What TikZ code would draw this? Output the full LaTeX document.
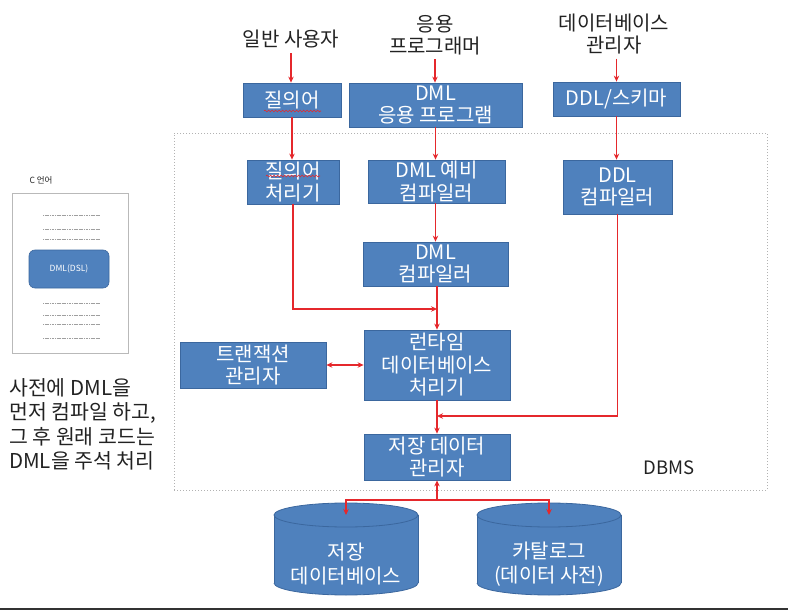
\documentclass[tikz,border=0pt]{standalone}
\usepackage{fontspec}
\setmainfont{Noto Sans CJK KR}
\usetikzlibrary{arrows.meta,decorations.pathmorphing}
\definecolor{boxblue}{HTML}{4F81BD}
\definecolor{boxedge}{HTML}{3B679E}
\definecolor{arrred}{HTML}{E5282C}
\definecolor{txtdark}{HTML}{222222}
\begin{document}
\begin{tikzpicture}[x=1pt,y=-1pt,
  box/.style={draw=boxedge, line width=0.8pt, fill=boxblue, text=white, align=center,
              inner sep=0pt, font=\fontsize{20}{22.5}\selectfont},
  toplabel/.style={align=center, inner sep=0pt, text=txtdark, font=\fontsize{20}{22.5}\selectfont},
  arr/.style={draw=arrred, line width=1.2pt, -{Stealth[length=6pt,width=5.5pt]}},
  darr/.style={draw=arrred, line width=1.2pt, {Stealth[length=6pt,width=5.5pt]}-{Stealth[length=6pt,width=5.5pt]}},
  cylline/.style={draw=boxedge, line width=0.8pt},
  cyltext/.style={text=white, align=center, inner sep=0pt, font=\fontsize{20}{24}\selectfont},
  squiggle/.style={draw=arrred, line width=0.6pt, decorate, decoration={snake, amplitude=0.9pt, segment length=3.5pt}},
  frame/.style={draw=gray!60, line width=1pt, dotted, inner sep=0pt},
  docdash/.style={draw=gray!75, line width=0.7pt, dash pattern=on 1.2pt off 0.5pt}
]
\useasboundingbox (0,0) rectangle (788,610);

% DBMS region
\node[frame, minimum width=593pt, minimum height=357pt] (dbms) at (470.5,311.5) {};
\node[inner sep=0pt, text=txtdark, font=\fontsize{18.5}{20}\selectfont] (dbmslbl) at (669,468) {DBMS};

% top labels
\node[toplabel] (u1) at (291,39) {일반 사용자};
\node[toplabel] (u2) at (435,35) {응용\\프로그래머};
\node[toplabel] (u3) at (614,34) {데이터베이스\\관리자};

% boxes
\node[box, minimum width=98pt, minimum height=34pt] (q1) at (292,100) {질의어};
\node[box, minimum width=173pt, minimum height=44pt] (app) at (435.5,105) {DML\\응용 프로그램};
\node[box, minimum width=127pt, minimum height=34pt] (ddl) at (616.5,99) {DDL/스키마};
\node[box, minimum width=92pt, minimum height=44pt] (qp) at (293,182) {질의어\\처리기};
\node[box, minimum width=137pt, minimum height=43pt] (pre) at (436.5,181.5) {DML 예비\\컴파일러};
\node[box, minimum width=109pt, minimum height=54pt] (ddlc) at (617.5,187) {DDL\\컴파일러};
\node[box, minimum width=145pt, minimum height=44pt] (dmlc) at (435.5,264) {DML\\컴파일러};
\node[box, minimum width=146pt, minimum height=70pt] (rt) at (437,365) {런타임\\데이터베이스\\처리기};
\node[box, minimum width=146pt, minimum height=46pt] (tm) at (253,365) {트랜잭션\\관리자};
\node[box, minimum width=146pt, minimum height=46pt] (sdm) at (437,457) {저장 데이터\\관리자};

% spell-check squiggles
\draw[squiggle] (264,111) -- (321,111);
\draw[squiggle] (266,176) -- (320,176);

% cylinders
\foreach \cx/\nm in {346/db1, 549/db2} {
  \fill[boxblue] (\cx-72,515) rectangle (\cx+72,583);
  \fill[boxblue] (\cx,583) ellipse [x radius=72, y radius=12];
  \draw[cylline] (\cx-72,515) -- (\cx-72,583);
  \draw[cylline] (\cx+72,515) -- (\cx+72,583);
  \begin{scope}
    \clip (\cx-75,583) rectangle (\cx+75,600);
    \draw[cylline] (\cx,583) ellipse [x radius=72, y radius=12];
  \end{scope}
  \draw[cylline, fill=boxblue] (\cx,515) ellipse [x radius=72, y radius=12];
  \coordinate (\nm top) at (\cx,515);
}
\node[cyltext] (db1) at (346,564) {저장\\데이터베이스};
\node[cyltext] (db2) at (549,564) {카탈로그\\(데이터 사전)};

% connectors
\draw[arr, shorten <=5pt] (u1.south) -- (u1.south |- q1.north);
\draw[arr, shorten <=4pt] (u2.south) -- (u2.south |- app.north);
\draw[arr, shorten <=4pt] (u3.south -| ddl.north) -- (ddl.north);
\draw[arr] (q1.south) -- (q1.south |- qp.north);
\draw[arr] (app.south) -- (app.south |- pre.north);
\draw[arr] (ddl.south) -- (ddl.south |- ddlc.north);
\draw[arr] (pre.south -| app.south) -- (app.south |- dmlc.north);
\draw[arr] (dmlc.south -| rt.north) -- (rt.north);
\coordinate (j1) at (437,309);
\draw[arr] (qp.south) |- (j1);
\draw[darr] (tm.east) -- (rt.west);
\draw[arr] (rt.south) -- (sdm.north);
\coordinate (j2) at (437,416);
\draw[arr] (ddlc.south) |- (j2);
\coordinate (b) at (437,500);
\draw[arr] (b) -- (sdm.south);
\draw[arr] (b) -| (db1top);
\draw[arr] (b) -| (db2top);

% left: C program sketch
\node[inner sep=0pt, text=txtdark, font=\fontsize{8.5}{9}\selectfont] (clbl) at (41,180) {C 언어};
\node[draw=gray!55, line width=0.8pt, fill=white, minimum width=116pt, minimum height=160pt, inner sep=0pt] (doc) at (70,273) {};
\foreach \yy in {215,229,239,303,315,324,338} {
  \draw[docdash] (43,\yy) -- (100,\yy);
}
\node[fill=boxblue, draw=boxedge, line width=0.6pt, rounded corners=6pt, minimum width=80pt, minimum height=38pt,
      inner sep=0pt, text=white, font=\fontsize{8.5}{9}\selectfont] (dsl) at (69,269) {DML(DSL)};

% left note
\node[anchor=north west, align=left, inner sep=0pt, text=txtdark, font=\fontsize{20.5}{24.5}\selectfont] (note) at (9,378)
  {사전에 DML을\\먼저 컴파일 하고,\\그 후 원래 코드는\\DML을 주석 처리};

% bottom edge line
\draw[black!80, line width=1.5pt] (0,609.2) -- (788,609.2);
\end{tikzpicture}
\end{document}
